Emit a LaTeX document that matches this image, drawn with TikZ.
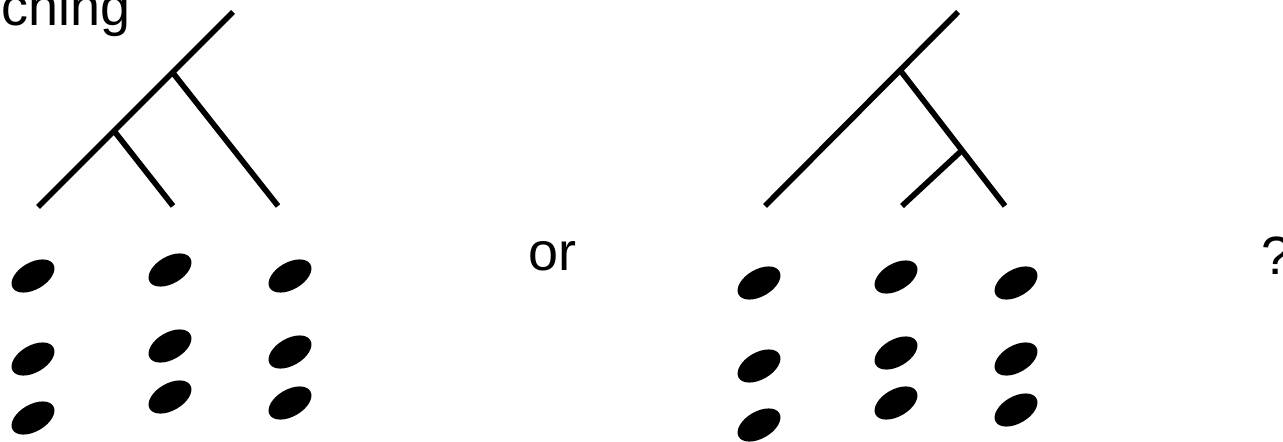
\documentclass[tikz,border=0pt]{standalone}
\usepackage{fontspec}
\setmainfont{Liberation Sans}
\usetikzlibrary{shapes.geometric, positioning, calc}

\begin{document}
\begin{tikzpicture}[x=0.02cm, y=-0.02cm,
  branch/.style={black, line width=3.2pt},
  seed/.style={ellipse, fill=black, inner sep=0pt, minimum width=0.94cm, minimum height=0.54cm, rotate=30},
  word/.style={inner sep=0pt, anchor=base west, font=\fontsize{30.7}{37}\selectfont}]
  \useasboundingbox (0,0) rectangle (1283,442);
  \clip (0,0) rectangle (1283,442);

  % left tree
  \coordinate (ltop)   at (233,12);
  \coordinate (lleafa) at (38,207);
  \coordinate (lleafb) at (173,206);
  \coordinate (lleafc) at (278,206);
  \coordinate (lja) at ($(lleafa)!0.69!(ltop)$);
  \coordinate (ljb) at ($(lleafa)!0.39!(ltop)$);
  \draw[branch] (lleafa) -- (ltop);
  \draw[branch] (lja) -- (lleafc);
  \draw[branch] (ljb) -- (lleafb);

  % right tree
  \coordinate (rtop)   at (958,12);
  \coordinate (rleafa) at (765,206);
  \coordinate (rleafb) at (902,206);
  \coordinate (rleafc) at (1005,206);
  \coordinate (rja) at ($(rleafa)!0.70!(rtop)$);
  \coordinate (rjb) at ($(rja)!0.59!(rleafc)$);
  \draw[branch] (rleafa) -- (rtop);
  \draw[branch] (rja) -- (rleafc);
  \draw[branch] (rjb) -- (rleafb);

  % left seeds
  \node[seed] (la1) at (33,276) {};
  \node[seed] (la2) at (33,359) {};
  \node[seed] (la3) at (33,418) {};
  \node[seed] (lb1) at (170,270) {};
  \node[seed] (lb2) at (170,346) {};
  \node[seed] (lb3) at (170,397) {};
  \node[seed] (lc1) at (290,276) {};
  \node[seed] (lc2) at (290,352) {};
  \node[seed] (lc3) at (290,403) {};

  % right seeds
  \node[seed] (ra1) at (759,283) {};
  \node[seed] (ra2) at (759,366) {};
  \node[seed] (ra3) at (759,425) {};
  \node[seed] (rb1) at (896,277) {};
  \node[seed] (rb2) at (896,353) {};
  \node[seed] (rb3) at (896,403) {};
  \node[seed] (rc1) at (1016,283) {};
  \node[seed] (rc2) at (1016,359) {};
  \node[seed] (rc3) at (1016,410) {};

  % texts
  \node[word] (title) at (1,26) {ching};
  \node[word] (ortext) at (528,270) {or};
  \node[word] (qmark) at (1261,274) {?};
\end{tikzpicture}
\end{document}
